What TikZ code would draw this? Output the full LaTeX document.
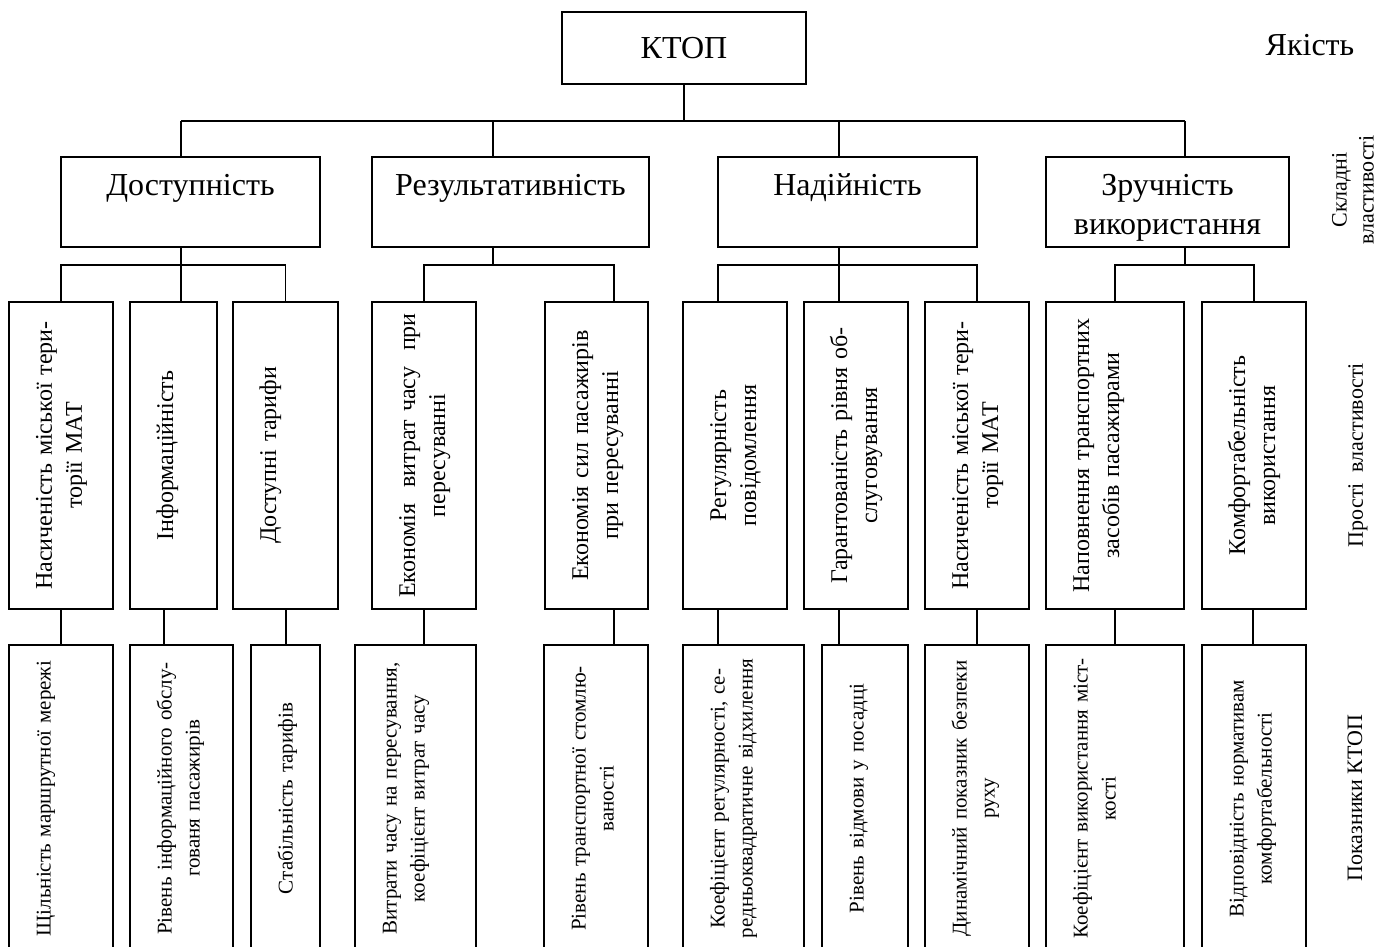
\documentclass[tikz,border=0pt]{standalone}
\usepackage{fontspec}
\setmainfont{Liberation Serif}
\usepackage{graphicx}
\usetikzlibrary{positioning,calc}
\newcommand{\vtxt}[1]{\noindent\rotatebox{90}{\begin{tabular}{@{}c@{}}#1\end{tabular}}}
\newcommand{\grp}[2]{\rule{0pt}{19pt}#1\\\strut#2}
\tikzset{
  box/.style={draw, rectangle, line width=0.75pt, inner sep=0pt, align=center},
  headbox/.style={box, font=\fontsize{16}{19.5}\selectfont, minimum height=36pt},
  groupbox/.style={box, font=\fontsize{16}{19.5}\selectfont, minimum height=45pt},
  vbox/.style={box, align=left, inner xsep=11pt, inner ysep=0pt, minimum height=153.5pt},
  prop/.style={vbox, font=\fontsize{12}{15}\selectfont, text width=#1},
  ind/.style={vbox, font=\fontsize{10.5}{14}\selectfont, text width=#1},
  side/.style={font=\fontsize{11}{13.5}\selectfont, align=center, inner sep=0pt},
  link/.style={line width=0.7pt},
}
\begin{document}
\begin{tikzpicture}[x=0.5pt,y=-0.5pt]
  \useasboundingbox (0,0) rectangle (1389,947);
  \clip (0,0) rectangle (1389,947);
  % top and complex properties
  \node[headbox, minimum width=122pt] (ktop) at (684,48) {КТОП};
  \node[side, font=\fontsize{16}{19.5}\selectfont] (lq) at (1310,45) {Якість};
  \node[groupbox, minimum width=129.5pt] (dost) at (190.5,202) {\grp{Доступність}{}};
  \node[groupbox, minimum width=138.5pt] (rez) at (510.5,202) {\grp{Результативність}{}};
  \node[groupbox, minimum width=129.5pt] (nad) at (847.5,202) {\grp{Надійність}{}};
  \node[groupbox, minimum width=121.5pt] (zruch) at (1167.5,202) {\grp{Зручність}{використання}};
  \node[side, rotate=90] (lc) at (1353,190) {Складні\\властивості};
  % simple properties
  \node[prop=30pt] (p1) at (61,455.5) {\vtxt{Насиченість міської тери-\\торії МАТ}};
  \node[prop=21.5pt] (p2) at (173.5,455.5) {\vtxt{Інформаційність}};
  \node[prop=30.5pt] (p3) at (285.5,455.5) {\vtxt{Доступні тарифи}};
  \node[prop=30pt] (p4) at (424,455.5) {\vtxt{Економія\ \ витрат часу\ \ при\\пересуванні}};
  \node[prop=29.5pt] (p5) at (596.5,455.5) {\vtxt{Економія сил пасажирів\\при пересуванні}};
  \node[prop=30pt] (p6) at (735,455.5) {\vtxt{Регулярність\\повідомлення}};
  \node[prop=30pt] (p7) at (856,455.5) {\vtxt{Гарантованість рівня об-\\слуговування}};
  \node[prop=30pt] (p8) at (977,455.5) {\vtxt{Насиченість міської тери-\\торії МАТ}};
  \node[prop=47pt] (p9) at (1115,455.5) {\vtxt{Наповнення транспортних\\засобів пасажирами}};
  \node[prop=30pt] (p10) at (1254,455.5) {\vtxt{Комфортабельність\\використання}};
  \node[side, rotate=90] (ls) at (1358,455) {Прості\ \ властивості};
  % indicators
  \node[ind=30pt] (i1) at (61,798.5) {\vtxt{Щільність маршрутної мережі}};
  \node[ind=29.5pt] (i2) at (181.5,798.5) {\vtxt{Рівень інформаційного обслу-\\гованя пасажирів}};
  \node[ind=12.5pt] (i3) at (285.5,798.5) {\vtxt{Стабільність тарифів}};
  \node[ind=38.5pt] (i4) at (415.5,798.5) {\vtxt{Витрати часу на пересування,\\коефіцієнт витрат часу}};
  \node[ind=30pt] (i5) at (596,798.5) {\vtxt{Рівень транспортної стомлю-\\ваності}};
  \node[ind=38.5pt] (i6) at (743.5,798.5) {\vtxt{Коефіцієнт регулярності, се-\\редньоквадратичне відхилення}};
  \node[ind=21pt] (i7) at (865,798.5) {\vtxt{Рівень відмови у посадці}};
  \node[ind=30pt] (i8) at (977,798.5) {\vtxt{Динамічний показник безпеки\\руху}};
  \node[ind=47pt] (i9) at (1115,798.5) {\vtxt{Коефіцієнт використання міст-\\кості}};
  \node[ind=30pt] (i10) at (1254,798.5) {\vtxt{Відповідність нормативам\\комфортабельності}};
  \node[side, rotate=90] (li) at (1355,798) {Показники КТОП};
  % tree lines
  \coordinate (b1) at (181,121);
  \coordinate (b2) at (493,121);
  \coordinate (b3) at (839,121);
  \coordinate (b4) at (1185,121);
  \coordinate (r1) at (0,265);
  \coordinate (k5) at (614,0);
  \coordinate (k6) at (718,0);
  \draw[link] (ktop.south) -- (ktop.south |- b1);
  \draw[link] (b1) -- (b4);
  \foreach \b/\g in {b1/dost,b2/rez,b3/nad,b4/zruch}
    \draw[link] (\b) -- (\b |- \g.north);
  \draw[link] (dost.south -| b1) -- (b1 |- p2.north);
  \draw[link] (p1.north) |- (p3.north |- r1) -- (p3.north);
  \draw[link] (rez.south -| b2) -- (b2 |- r1);
  \draw[link] (p4.north) |- (k5 |- r1) -- (k5 |- p5.north);
  \draw[link] (nad.south -| b3) -- (b3 |- p7.north);
  \draw[link] (k6 |- p6.north) |- (p8.north |- r1) -- (p8.north);
  \draw[link] (zruch.south -| b4) -- (b4 |- r1);
  \draw[link] (p9.north) |- (p10.north |- r1) -- (p10.north);
  \foreach \n/\x in {1/61,2/164,3/286,4/424,5/614,6/718,7/839,8/977,9/1115,10/1253}{
    \coordinate (d\n) at (\x,0);
    \draw[link] (p\n.south -| d\n) -- (i\n.north -| d\n);
  }
\end{tikzpicture}
\end{document}
